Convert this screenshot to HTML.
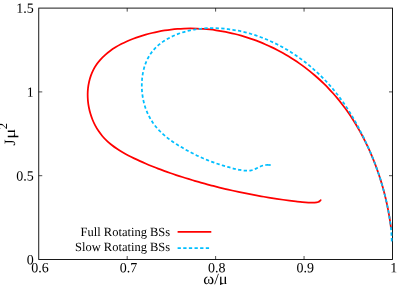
<!DOCTYPE html>
<html><head><meta charset="utf-8"><style>
html,body{margin:0;padding:0;background:#fff;}
body{width:407px;height:285px;overflow:hidden;}
svg{display:block;font-family:"Liberation Serif",serif;will-change:transform;text-rendering:geometricPrecision;}
</style></head><body>
<svg width="407" height="285" viewBox="0 0 407 285">
<rect width="407" height="285" fill="#fff"/>
<g fill="none" stroke="#000" stroke-width="0.9">
<rect x="38.75" y="8.1" width="353.75" height="251.4"/>
</g>
<g fill="none" stroke="#000" stroke-width="0.7"><path d="M127.19 259.50V256.00M127.19 8.10V11.60"/><path d="M215.62 259.50V256.00M215.62 8.10V11.60"/><path d="M304.06 259.50V256.00M304.06 8.10V11.60"/><path d="M38.75 175.70H42.25M392.50 175.70H389.00"/><path d="M38.75 91.90H42.25M392.50 91.90H389.00"/></g>
<g fill="#000"><text transform="translate(39.95,272.25) rotate(0.03)" text-anchor="middle" font-size="14">0.6</text><text transform="translate(128.39,272.25) rotate(0.03)" text-anchor="middle" font-size="14">0.7</text><text transform="translate(216.82,272.25) rotate(0.03)" text-anchor="middle" font-size="14">0.8</text><text transform="translate(305.26,272.25) rotate(0.03)" text-anchor="middle" font-size="14">0.9</text><text transform="translate(393.70,272.25) rotate(0.03)" text-anchor="middle" font-size="14">1</text><text transform="translate(33.8,264.25) rotate(0.03)" text-anchor="end" font-size="14">0</text><text transform="translate(33.8,180.45) rotate(0.03)" text-anchor="end" font-size="14">0.5</text><text transform="translate(33.8,96.65) rotate(0.03)" text-anchor="end" font-size="14">1</text><text transform="translate(33.8,12.85) rotate(0.03)" text-anchor="end" font-size="14">1.5</text>
<text transform="translate(215.5,283.6) scale(1.05,1)" text-anchor="middle" font-size="15.75">ω/μ</text>
<g transform="translate(14.6,145.4) rotate(-90)" font-size="15.75"><text x="0" y="0">J</text><text transform="translate(6.6,0) scale(1.2,1)">μ</text><text x="16.1" y="-7.8" font-size="12.6">2</text></g>
<text x="170.2" y="235.7" text-anchor="end" font-size="12.5">Full Rotating BSs</text>
<text x="170.2" y="251" text-anchor="end" font-size="12.5">Slow Rotating BSs</text>
</g>
<g fill="none" stroke-width="1.75" stroke-linejoin="round">
<path d="M390.97 227.63C390.82 226.59 390.41 223.46 390.09 221.37C389.78 219.28 389.44 217.19 389.07 215.10C388.71 213.00 388.32 210.91 387.91 208.82C387.49 206.73 387.06 204.63 386.59 202.54C386.13 200.46 385.64 198.37 385.13 196.28C384.62 194.20 384.09 192.11 383.53 190.04C382.97 187.96 382.38 185.88 381.77 183.82C381.16 181.75 380.53 179.68 379.87 177.63C379.21 175.57 378.52 173.52 377.81 171.47C377.10 169.43 376.37 167.40 375.61 165.37C374.85 163.34 374.06 161.32 373.25 159.32C372.44 157.31 371.61 155.31 370.75 153.32C369.88 151.33 369.00 149.36 368.09 147.39C367.18 145.43 366.24 143.48 365.28 141.54C364.32 139.60 363.33 137.67 362.31 135.76C361.30 133.85 360.26 131.96 359.20 130.07C358.13 128.19 357.04 126.33 355.93 124.48C354.81 122.63 353.67 120.80 352.50 118.99C351.33 117.17 350.14 115.38 348.92 113.60C347.70 111.82 346.46 110.07 345.18 108.33C343.91 106.59 342.61 104.88 341.29 103.18C339.97 101.49 338.62 99.81 337.24 98.16C335.86 96.51 334.46 94.88 333.03 93.27C331.61 91.67 330.15 90.09 328.67 88.53C327.19 86.97 325.68 85.44 324.14 83.94C322.61 82.43 321.05 80.95 319.46 79.50C317.88 78.04 316.27 76.62 314.64 75.22C313.00 73.82 311.34 72.44 309.66 71.10C307.98 69.75 306.28 68.43 304.56 67.14C302.83 65.86 301.08 64.59 299.32 63.36C297.55 62.13 295.76 60.93 293.96 59.75C292.15 58.58 290.32 57.43 288.48 56.32C286.64 55.20 284.77 54.12 282.89 53.07C281.01 52.01 279.12 50.99 277.20 50.00C275.29 49.01 273.36 48.04 271.42 47.12C269.47 46.19 267.51 45.29 265.54 44.43C263.57 43.56 261.58 42.73 259.58 41.93C257.58 41.14 255.57 40.37 253.55 39.64C251.52 38.91 249.49 38.21 247.44 37.55C245.39 36.88 243.34 36.25 241.27 35.66C239.20 35.07 237.13 34.51 235.04 33.99C232.96 33.46 230.87 32.97 228.77 32.52C226.67 32.07 224.56 31.66 222.45 31.28C220.33 30.90 218.21 30.56 216.09 30.26C213.96 29.95 211.83 29.68 209.70 29.46C207.57 29.23 205.43 29.04 203.29 28.89C201.15 28.73 199.00 28.62 196.86 28.55C194.71 28.47 192.57 28.44 190.42 28.44C188.27 28.45 186.12 28.50 183.98 28.58C181.83 28.67 179.68 28.79 177.53 28.96C175.39 29.13 173.24 29.34 171.10 29.59C168.96 29.84 166.82 30.13 164.69 30.47C162.56 30.80 160.42 31.18 158.30 31.60C156.18 32.02 154.06 32.48 151.95 32.98C149.84 33.49 147.74 34.04 145.65 34.63C143.56 35.23 141.47 35.87 139.40 36.55C137.33 37.23 135.26 37.96 133.22 38.73C131.17 39.51 129.14 40.33 127.14 41.22C125.13 42.11 123.15 43.05 121.20 44.06C119.26 45.07 117.33 46.15 115.47 47.30C113.61 48.45 111.77 49.67 110.03 50.96C108.28 52.24 106.58 53.60 104.99 55.04C103.39 56.47 101.86 57.97 100.46 59.55C99.05 61.12 97.73 62.77 96.54 64.50C95.36 66.22 94.29 68.02 93.35 69.88C92.40 71.74 91.58 73.67 90.88 75.64C90.17 77.61 89.59 79.64 89.12 81.69C88.65 83.74 88.30 85.85 88.05 87.96C87.81 90.07 87.68 92.22 87.66 94.36C87.64 96.50 87.74 98.67 87.93 100.82C88.13 102.96 88.44 105.12 88.85 107.25C89.26 109.37 89.77 111.49 90.39 113.57C91.00 115.65 91.72 117.71 92.54 119.71C93.36 121.71 94.27 123.68 95.28 125.58C96.29 127.48 97.40 129.34 98.60 131.11C99.80 132.88 101.10 134.59 102.48 136.21C103.86 137.83 105.34 139.37 106.89 140.83C108.44 142.30 110.07 143.68 111.75 145.01C113.44 146.34 115.20 147.60 116.99 148.81C118.79 150.01 120.65 151.16 122.53 152.26C124.41 153.37 126.34 154.41 128.28 155.43C130.21 156.45 132.19 157.42 134.16 158.37C136.13 159.32 138.11 160.24 140.09 161.14C142.07 162.03 144.06 162.90 146.05 163.75C148.03 164.60 150.02 165.42 152.02 166.23C154.02 167.03 156.01 167.82 158.02 168.58C160.02 169.35 162.03 170.10 164.04 170.83C166.05 171.56 168.07 172.28 170.09 172.98C172.12 173.69 174.14 174.37 176.18 175.05C178.21 175.73 180.25 176.39 182.29 177.04C184.33 177.70 186.38 178.34 188.44 178.96C190.49 179.59 192.55 180.21 194.61 180.82C196.67 181.42 198.74 182.02 200.81 182.60C202.89 183.18 204.96 183.75 207.04 184.31C209.12 184.87 211.21 185.42 213.30 185.96C215.38 186.50 217.47 187.02 219.57 187.54C221.66 188.05 223.76 188.55 225.86 189.05C227.96 189.54 230.07 190.02 232.17 190.49C234.28 190.96 236.39 191.42 238.50 191.87C240.61 192.32 242.73 192.76 244.84 193.19C246.96 193.61 249.08 194.03 251.20 194.44C253.32 194.84 255.44 195.24 257.56 195.62C259.69 196.01 261.81 196.38 263.94 196.75C266.06 197.11 268.19 197.47 270.32 197.81C272.44 198.15 274.57 198.49 276.70 198.81C278.83 199.13 280.96 199.45 283.09 199.75C285.22 200.05 287.35 200.35 289.47 200.63C291.60 200.92 293.73 201.19 295.86 201.45C297.99 201.72 300.16 202.02 302.25 202.22C304.33 202.41 306.34 202.54 308.40 202.60C310.46 202.66 312.95 202.70 314.60 202.60C316.25 202.50 317.38 202.32 318.30 202.00C319.22 201.68 319.70 201.02 320.10 200.70C320.50 200.38 320.60 200.20 320.70 200.10" stroke="#ff0000" stroke-linecap="round"/>
<path d="M391.75 241.35C391.73 240.64 391.68 238.52 391.61 237.11C391.55 235.69 391.46 234.28 391.35 232.87C391.25 231.46 391.12 230.05 390.98 228.65C390.84 227.24 390.68 225.83 390.51 224.43C390.33 223.02 390.14 221.62 389.93 220.22C389.73 218.82 389.51 217.42 389.27 216.02C389.04 214.62 388.79 213.22 388.53 211.83C388.27 210.43 387.99 209.04 387.71 207.65C387.42 206.26 387.13 204.87 386.82 203.49C386.51 202.10 386.20 200.72 385.87 199.34C385.54 197.96 385.21 196.58 384.86 195.21C384.52 193.83 384.16 192.46 383.79 191.09C383.43 189.72 383.05 188.36 382.67 186.99C382.28 185.63 381.88 184.27 381.48 182.91C381.07 181.56 380.65 180.20 380.23 178.85C379.80 177.50 379.36 176.15 378.92 174.81C378.47 173.46 378.01 172.12 377.55 170.79C377.08 169.45 376.60 168.11 376.11 166.78C375.63 165.45 375.13 164.13 374.62 162.80C374.11 161.48 373.59 160.16 373.06 158.84C372.54 157.53 372.00 156.21 371.45 154.91C370.90 153.60 370.35 152.29 369.78 150.99C369.22 149.69 368.64 148.39 368.06 147.10C367.48 145.81 366.89 144.52 366.29 143.23C365.69 141.95 365.08 140.67 364.46 139.39C363.85 138.11 363.22 136.84 362.59 135.57C361.96 134.30 361.33 133.04 360.68 131.78C360.03 130.52 359.38 129.26 358.72 128.01C358.06 126.76 357.39 125.51 356.71 124.27C356.03 123.03 355.35 121.79 354.65 120.56C353.95 119.33 353.25 118.11 352.53 116.89C351.82 115.67 351.09 114.46 350.35 113.26C349.61 112.05 348.86 110.85 348.10 109.66C347.34 108.47 346.57 107.29 345.78 106.11C345.00 104.94 344.20 103.77 343.39 102.61C342.58 101.45 341.76 100.30 340.92 99.16C340.08 98.02 339.23 96.89 338.37 95.76C337.50 94.64 336.63 93.52 335.74 92.42C334.85 91.31 333.95 90.22 333.04 89.13C332.12 88.05 331.20 86.97 330.26 85.90C329.32 84.84 328.37 83.78 327.41 82.74C326.45 81.70 325.48 80.66 324.49 79.64C323.51 78.62 322.51 77.60 321.51 76.60C320.50 75.60 319.48 74.62 318.45 73.64C317.42 72.66 316.38 71.70 315.33 70.74C314.28 69.79 313.21 68.85 312.14 67.92C311.07 67.00 309.98 66.08 308.89 65.18C307.79 64.28 306.69 63.39 305.58 62.51C304.46 61.64 303.34 60.77 302.20 59.93C301.07 59.08 299.92 58.24 298.77 57.42C297.62 56.60 296.45 55.79 295.28 55.00C294.11 54.21 292.92 53.43 291.73 52.67C290.54 51.91 289.34 51.16 288.13 50.43C286.92 49.70 285.70 48.98 284.48 48.28C283.25 47.58 282.01 46.90 280.77 46.23C279.52 45.56 278.27 44.90 277.01 44.27C275.75 43.63 274.48 43.01 273.21 42.41C271.93 41.81 270.64 41.22 269.35 40.65C268.06 40.08 266.76 39.53 265.45 39.00C264.14 38.46 262.83 37.95 261.51 37.45C260.19 36.95 258.86 36.47 257.52 36.01C256.18 35.55 254.84 35.10 253.49 34.68C252.14 34.26 250.78 33.85 249.42 33.46C248.06 33.08 246.69 32.71 245.31 32.36C243.94 32.02 242.55 31.69 241.17 31.38C239.78 31.07 238.38 30.79 236.98 30.52C235.58 30.25 234.18 30.00 232.77 29.78C231.36 29.55 229.94 29.35 228.52 29.16C227.10 28.98 225.68 28.82 224.25 28.68C222.83 28.54 221.40 28.43 219.97 28.34C218.54 28.24 217.11 28.18 215.68 28.14C214.25 28.10 212.82 28.08 211.39 28.09C209.96 28.10 208.54 28.13 207.11 28.20C205.69 28.26 204.27 28.35 202.85 28.47C201.44 28.59 200.03 28.74 198.62 28.92C197.22 29.09 195.82 29.30 194.42 29.54C193.03 29.77 191.65 30.04 190.27 30.34C188.89 30.64 187.53 30.97 186.17 31.33C184.81 31.70 183.46 32.09 182.13 32.52C180.79 32.95 179.46 33.42 178.15 33.91C176.84 34.41 175.54 34.94 174.26 35.51C172.97 36.08 171.70 36.69 170.44 37.33C169.19 37.97 167.94 38.65 166.72 39.36C165.50 40.08 164.30 40.83 163.13 41.63C161.96 42.43 160.81 43.26 159.70 44.14C158.60 45.02 157.53 45.94 156.51 46.90C155.49 47.87 154.52 48.88 153.60 49.93C152.68 50.98 151.82 52.08 151.01 53.22C150.20 54.36 149.44 55.54 148.74 56.75C148.04 57.96 147.39 59.21 146.81 60.49C146.22 61.76 145.68 63.08 145.21 64.41C144.73 65.74 144.31 67.10 143.94 68.48C143.57 69.85 143.25 71.26 142.99 72.66C142.72 74.07 142.50 75.50 142.32 76.93C142.15 78.36 142.02 79.80 141.93 81.24C141.84 82.68 141.80 84.13 141.80 85.57C141.80 87.01 141.84 88.46 141.93 89.89C142.01 91.33 142.14 92.76 142.32 94.18C142.49 95.60 142.71 97.02 142.97 98.42C143.23 99.82 143.53 101.21 143.88 102.58C144.23 103.95 144.62 105.31 145.05 106.66C145.49 108.00 145.96 109.32 146.48 110.63C147.00 111.93 147.56 113.22 148.16 114.48C148.76 115.75 149.40 116.99 150.08 118.21C150.77 119.42 151.49 120.62 152.26 121.78C153.02 122.95 153.83 124.09 154.68 125.20C155.52 126.30 156.41 127.38 157.33 128.43C158.26 129.48 159.22 130.50 160.22 131.50C161.21 132.49 162.24 133.45 163.30 134.39C164.36 135.33 165.45 136.25 166.55 137.14C167.66 138.03 168.80 138.89 169.95 139.74C171.11 140.59 172.28 141.41 173.47 142.21C174.66 143.02 175.87 143.80 177.08 144.57C178.30 145.34 179.53 146.09 180.76 146.82C181.99 147.56 183.23 148.28 184.48 148.98C185.72 149.68 186.97 150.37 188.22 151.05C189.47 151.73 190.73 152.39 192.00 153.03C193.26 153.68 194.53 154.31 195.80 154.92C197.07 155.54 198.35 156.14 199.63 156.73C200.92 157.32 202.21 157.89 203.50 158.45C204.80 159.00 206.10 159.55 207.40 160.07C208.71 160.60 210.02 161.12 211.34 161.62C212.65 162.11 213.98 162.60 215.31 163.07C216.64 163.54 217.97 163.99 219.31 164.43C220.65 164.87 222.00 165.30 223.36 165.71C224.71 166.12 226.07 166.51 227.44 166.90C228.80 167.28 230.18 167.64 231.56 168.00C232.94 168.35 234.32 168.69 235.72 169.01C237.11 169.33 238.34 169.66 239.92 169.93C241.50 170.21 243.34 170.57 245.20 170.65C247.06 170.73 249.20 170.78 251.10 170.40C253.00 170.03 254.87 169.13 256.60 168.40C258.33 167.67 259.97 166.57 261.50 166.00C263.03 165.43 264.30 165.17 265.80 165.00C267.30 164.83 269.72 165.00 270.50 165.00" stroke="#00bfff" stroke-dasharray="3.3 2.335"/>
<path d="M268.3 165H270.7" stroke="#00bfff"/>
<path d="M177.6 231.8H211.3" stroke="#ff0000"/>
<path d="M177.6 248H211.3" stroke="#00bfff" stroke-dasharray="3.3 2.335"/>
</g>
</svg>
</body></html>
